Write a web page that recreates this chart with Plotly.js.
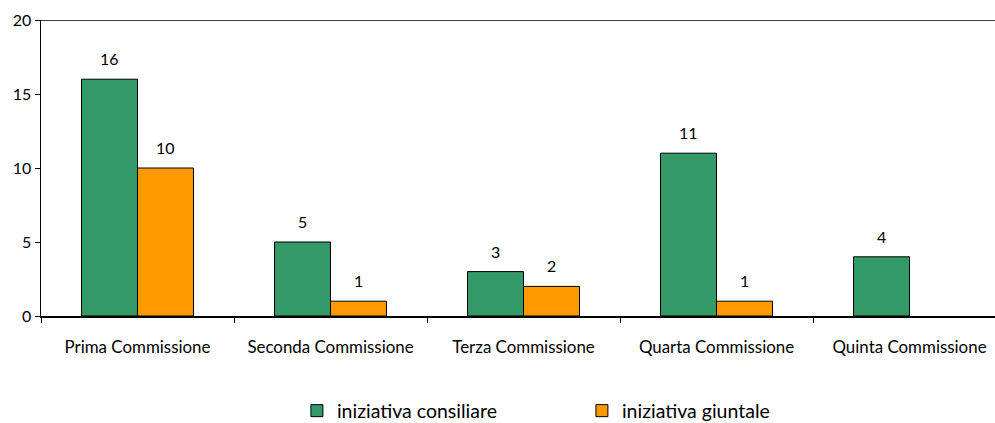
<!DOCTYPE html>
<html><head><meta charset="utf-8">
<script src="https://cdn.plot.ly/plotly-3.0.1.min.js"></script>
<style>body{margin:0;background:#fff}#c{width:995px;height:423px}</style>
</head><body><div id="c"></div>
<script>
var categories = ["Prima Commissione","Seconda Commissione","Terza Commissione","Quarta Commissione","Quinta Commissione"];
var consiliare = [16, 5, 3, 11, 4];
var giuntale = [10, 1, 2, 1, null];
var yTicks = [0, 5, 10, 15, 20];
var seriesNames = ["iniziativa consiliare","iniziativa giuntale"];

var FONT = "Lato, 'Open Sans', sans-serif";
var traces = [
  {type:"bar", name:seriesNames[0], x:categories, y:consiliare,
   marker:{color:"#339966", line:{color:"#000", width:1}}},
  {type:"bar", name:seriesNames[1], x:categories, y:giuntale,
   marker:{color:"#FF9900", line:{color:"#000", width:1}}}
];
var ann = [];
[consiliare, giuntale].forEach(function(arr, s){
  arr.forEach(function(v, i){
    if (v === null) return;
    ann.push({x:categories[i], y:v, text:String(v), showarrow:false,
      xshift: s===0 ? -28 : 28, yanchor:"bottom", yshift:9,
      font:{family:FONT, size:16, color:"#000"}});
  });
});
var layout = {
  width:995, height:423,
  margin:{l:41, r:0, t:20, b:107, autoexpand:false},
  paper_bgcolor:"#fff", plot_bgcolor:"#fff",
  font:{family:FONT, size:14, color:"#000"},
  barmode:"group", bargap:0.42, bargroupgap:0,
  showlegend:true,
  legend:{orientation:"h", x:0.567, xanchor:"center", y:-0.255, yanchor:"top",
    font:{family:FONT, size:19.5, color:"#000"}, entrywidth:240, itemwidth:30},
  xaxis:{type:"category", range:[-0.5, 4.443], tickson:"boundaries",
    ticks:"outside", ticklen:5, tickcolor:"#000", tickwidth:1,
    showline:true, linecolor:"#000", linewidth:1.5, showgrid:false,
    ticklabelstandoff:15, tickfont:{family:FONT, size:16.9}},
  yaxis:{range:[0,20], tickvals:yTicks, ticks:"outside", ticklen:5,
    tickcolor:"#000", showline:true, linecolor:"#000", linewidth:1.5,
    showgrid:false, zeroline:false, tickfont:{family:FONT, size:16}},
  shapes:[{type:"line", xref:"paper", yref:"y", x0:0, x1:1, y0:20, y1:20,
    line:{color:"#000", width:1.5}}],
  annotations:ann
};
Plotly.newPlot("c", traces, layout, {displayModeBar:false, staticPlot:true});
</script></body></html>
